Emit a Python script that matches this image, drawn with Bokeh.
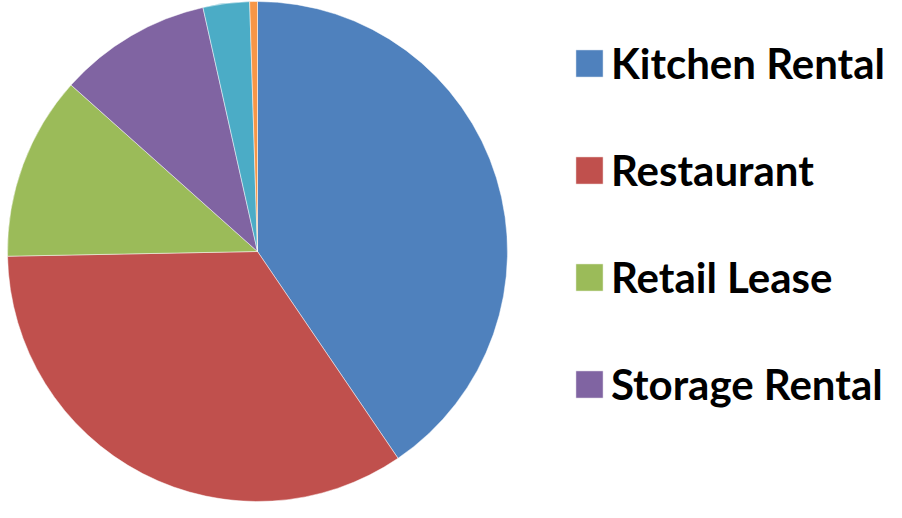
import math
from bokeh.plotting import figure
from bokeh.models import ColumnDataSource, Legend, LegendItem
from bokeh.embed import file_html
from bokeh.resources import INLINE

# Data (percent shares)
categories = ["Kitchen Rental", "Restaurant", "Retail Lease", "Storage Rental", "Other", "Misc"]
values = [40.5, 34.2, 11.9, 9.9, 3.0, 0.5]
colors = ["#4F81BD", "#C0504D", "#9BBB59", "#8064A2", "#4BACC6", "#F79646"]
legend_count = 4

W, H = 886, 502
total = sum(values)
starts, ends = [], []
acc = 0.0
for v in values:
    starts.append(math.pi / 2 - acc / total * 2 * math.pi)
    acc += v
    ends.append(math.pi / 2 - acc / total * 2 * math.pi)

p = figure(width=W, height=H, x_range=(0, W), y_range=(0, H),
           output_backend="svg", toolbar_location=None, min_border=0)
p.axis.visible = False
p.grid.visible = False
p.outline_line_color = None
p.background_fill_color = "white"

cx, cy, r = 257, 251, 250
renderers = []
for i in range(len(values)):
    rr = p.wedge(x=cx, y=cy, radius=r, start_angle=starts[i], end_angle=ends[i],
                 direction="clock", fill_color=colors[i], line_color="white",
                 line_width=0.8, line_alpha=0.6)
    renderers.append(rr)

items = [LegendItem(label=categories[i], renderers=[renderers[i]]) for i in range(legend_count)]
legend = Legend(items=items, location=(572, 93),
                glyph_width=34, glyph_height=34, label_height=27,
                label_standoff=5, spacing=57, padding=0, margin=0,
                border_line_alpha=0, background_fill_alpha=0,
                label_text_font="Lato", label_text_font_style="bold",
                label_text_font_size="42px", label_text_color="black")
p.add_layout(legend)

open("out.html", "w").write(file_html(p, INLINE))
